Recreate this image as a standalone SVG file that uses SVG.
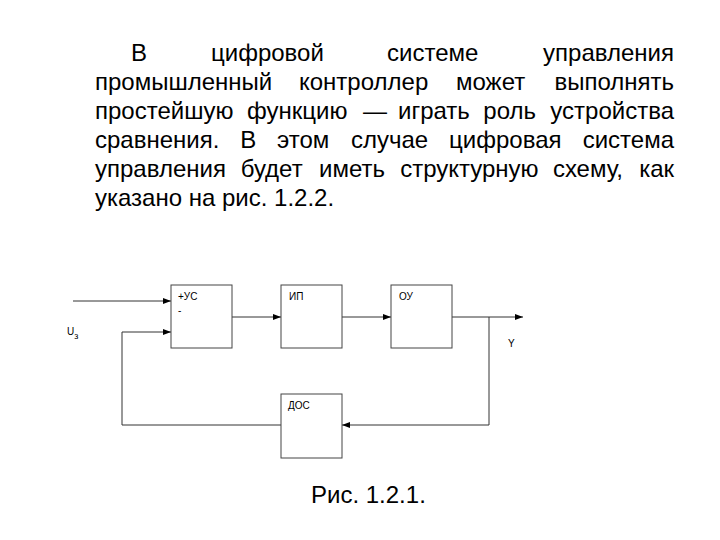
<svg xmlns="http://www.w3.org/2000/svg" width="720" height="540" viewBox="0 0 720 540">
<style>
.p{font-family:"Liberation Sans",Arial,sans-serif;font-size:24px;fill:#000}
.l{font-family:"Liberation Sans",Arial,sans-serif;font-size:10px;fill:#000}
.box{fill:#fff;stroke:#444;stroke-width:1}
.c{fill:none;stroke:#333;stroke-width:1}
</style>
<defs>
<marker id="ah" markerWidth="8" markerHeight="6" refX="8" refY="3" orient="auto" markerUnits="userSpaceOnUse">
<path d="M0,0 L8,3 L0,6 Z" fill="#000"/>
</marker>
</defs>
<rect width="720" height="540" fill="#fff"/>
<g id="paragraph">
<text class="p" y="61"><tspan x="131">В</tspan><tspan x="211">цифровой</tspan><tspan x="387">системе</tspan><tspan x="674" text-anchor="end">управления</tspan></text>
<text class="p" y="90"><tspan x="95">промышленный</tspan><tspan x="299">контроллер</tspan><tspan x="456">может</tspan><tspan x="674" text-anchor="end">выполнять</tspan></text>
<text class="p" y="119"><tspan x="95">простейшую</tspan><tspan x="247">функцию</tspan><tspan x="363">—</tspan><tspan x="398">играть</tspan><tspan x="483.3">роль</tspan><tspan x="674" text-anchor="end">устройства</tspan></text>
<text class="p" y="148"><tspan x="95">сравнения.</tspan><tspan x="240.2">В</tspan><tspan x="277">этом</tspan><tspan x="350.9">случае</tspan><tspan x="449.1">цифровая</tspan><tspan x="674" text-anchor="end">система</tspan></text>
<text class="p" y="177"><tspan x="95">управления</tspan><tspan x="240.7">будет</tspan><tspan x="319.1">иметь</tspan><tspan x="400.2">структурную</tspan><tspan x="552.9">схему,</tspan><tspan x="674" text-anchor="end">как</tspan></text>
<text class="p" x="95" y="206">указано на рис. 1.2.2.</text>
</g>
<g id="connectors">
<line class="c" x1="73" y1="301" x2="171" y2="301" marker-end="url(#ah)"/>
<line class="c" x1="122" y1="332" x2="171" y2="332" marker-end="url(#ah)"/>
<line class="c" x1="232" y1="317" x2="281" y2="317" marker-end="url(#ah)"/>
<line class="c" x1="342" y1="317" x2="391" y2="317" marker-end="url(#ah)"/>
<line class="c" x1="452" y1="317" x2="523" y2="317" marker-end="url(#ah)"/>
<polyline class="c" points="489,317 489,425 342,425" marker-end="url(#ah)"/>
<polyline class="c" points="281,425 122,425 122,332"/>
</g>
<g id="node-us">
<rect class="box" x="171" y="285" width="61" height="63"/>
<text class="l" x="178" y="300">+УС</text>
<text class="l" x="178" y="314">-</text>
</g>
<g id="node-ip">
<rect class="box" x="281" y="285" width="61" height="63"/>
<text class="l" x="289" y="300">ИП</text>
</g>
<g id="node-ou">
<rect class="box" x="391" y="285" width="61" height="63"/>
<text class="l" x="399" y="300">ОУ</text>
</g>
<g id="node-dos">
<rect class="box" x="281" y="394" width="61" height="64"/>
<text class="l" x="288" y="409">ДОС</text>
</g>
<g id="labels">
<text class="l" x="67" y="335" font-size="12">U<tspan font-size="9" dy="4">з</tspan></text>
<text class="l" x="508" y="347" font-size="11">Y</text>
</g>
<text class="p" x="311" y="503" font-size="23">Рис. 1.2.1.</text>
</svg>
